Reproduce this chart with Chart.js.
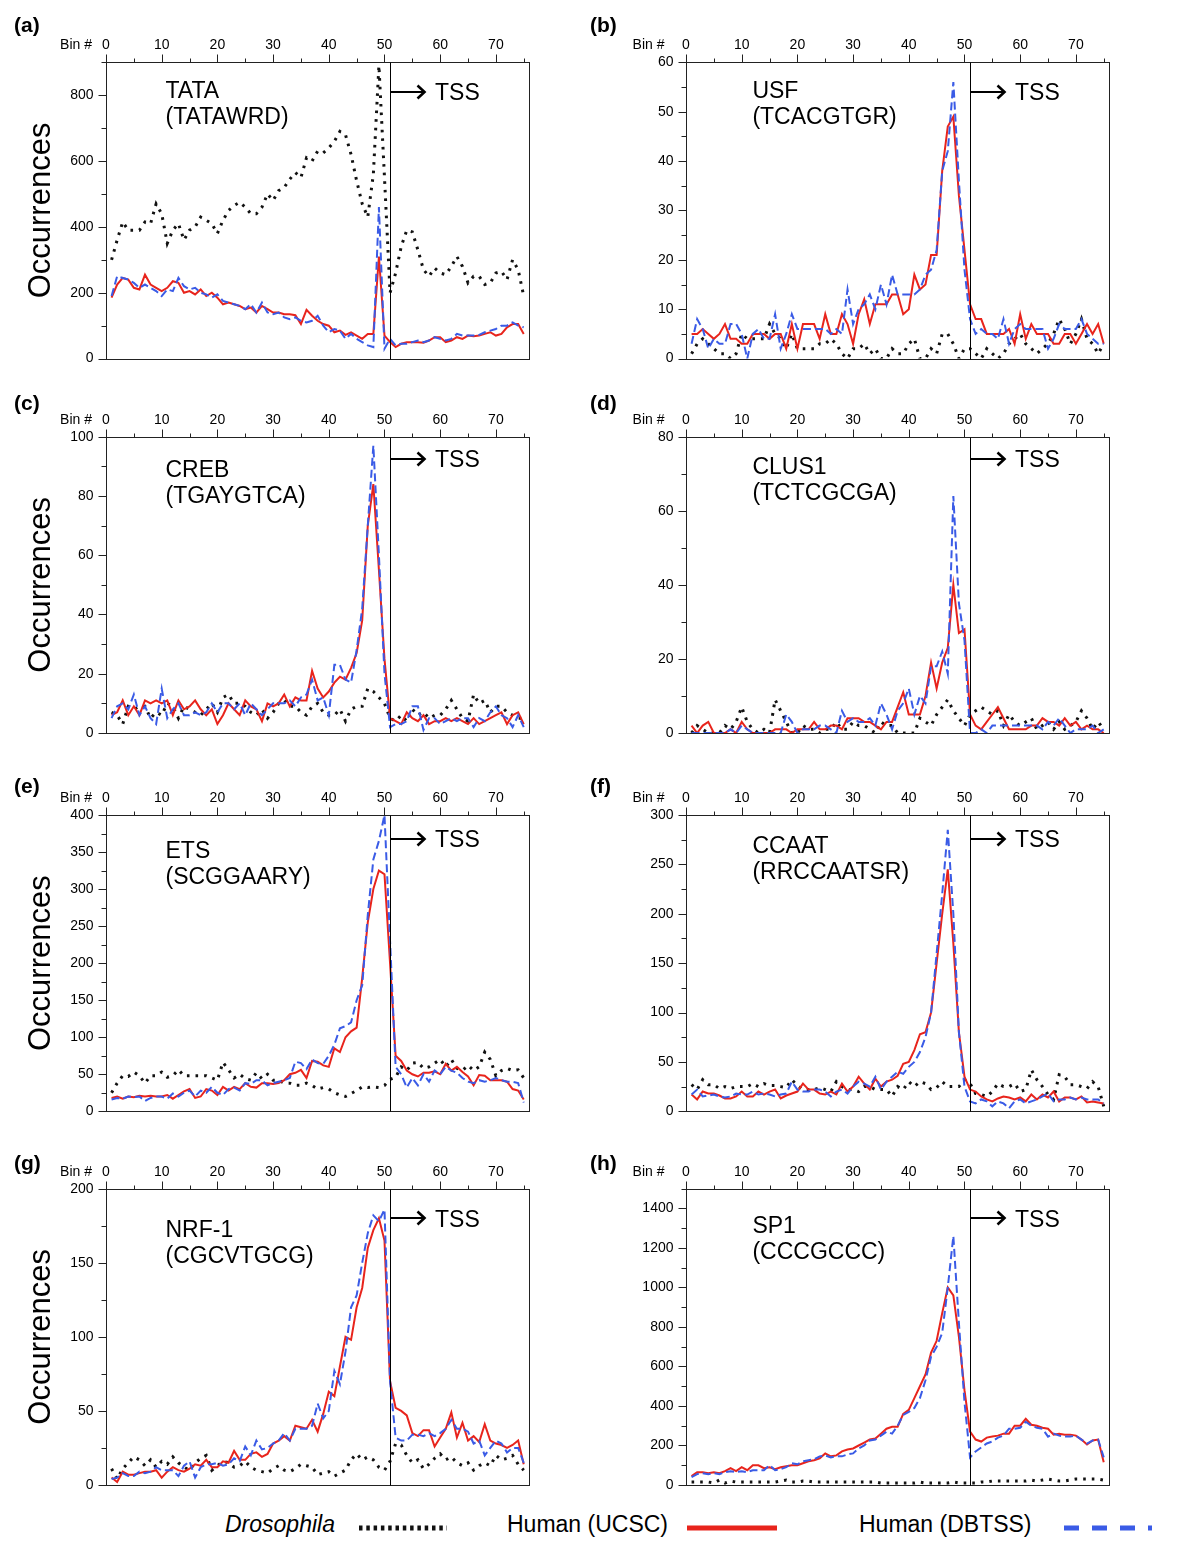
<!DOCTYPE html>
<html>
<head>
<meta charset="utf-8">
<script src="https://cdn.jsdelivr.net/npm/chart.js@4.4.1/dist/chart.umd.min.js"></script>
<style>
  body { margin: 0; background: #fff; }
  #page { position: relative; width: 1200px; height: 1564px; overflow: hidden; }
  canvas { position: absolute; }
  .leg { position: absolute; top: 1511px; height: 30px; line-height: 30px; font: 23px "Liberation Sans", Arial, sans-serif; color: #000; white-space: nowrap; }
</style>
</head>
<body>
<div id="page">
  <div class="leg" style="left:225px;font-style:italic">Drosophila</div>
  <div class="leg" style="left:507px">Human (UCSC)</div>
  <div class="leg" style="left:859px">Human (DBTSS)</div>
  <canvas id="legendLines" width="1200" height="40" style="left:0;top:1508px"></canvas>
</div>
<script>
// Bin numbers along the promoter (x values of every series)
const bins = [1,2,3,4,5,6,7,8,9,10,11,12,13,14,15,16,17,18,19,20,21,22,23,24,25,
  26,27,28,29,30,31,32,33,34,35,36,37,38,39,40,41,42,43,44,45,46,47,48,49,50,
  51,52,53,54,55,56,57,58,59,60,61,62,63,64,65,66,67,68,69,70,71,72,73,74,75];
const binTicks = [0, 10, 20, 30, 40, 50, 60, 70];
const tssBin = 51;

// (a) TATA
const tataDros = [300,360,415,390,390,390,415,410,470,440, 350,390,410,360,390,400,430,420,410,380,
  420,450,465,475,460,440,440,460,500,480, 510,520,545,565,550,610,600,630,625,640,
  660,690,680,620,540,470,430,560,890,550, 200,260,340,390,385,330,270,250,275,260,
  255,280,310,280,230,250,250,225,230,260, 265,240,300,270,190];
const tataUcsc = [185,225,245,240,215,210,255,225,215,205, 215,235,230,200,205,195,210,190,200,185,
  165,170,165,160,150,155,140,160,150,140, 140,135,135,132,105,148,130,115,105,100,
  80,85,72,80,70,60,75,75,310,70, 50,35,45,50,50,50,48,55,65,65,
  50,55,65,60,70,68,70,75,80,70, 75,95,105,105,75];
const tataDbtss = [190,250,245,240,230,215,225,215,205,190, 210,205,245,220,210,215,200,195,185,195,
  175,170,165,160,150,165,140,170,140,135, 140,125,120,125,115,110,115,130,100,80,
  90,85,60,75,60,50,40,35,460,30, 60,40,45,45,50,55,50,55,65,60,
  55,60,75,70,70,70,72,80,85,90, 100,100,110,100,95];
const tataTicks = [0, 200, 400, 600, 800];

// (b) USF
const usfDros = [1,3,4,3,2,1,1,0,1,5, 4,4,4,4,7,5,4,2,5,2, 2,2,2,3,3,4,3,1,0,2,
  2,3,1,2,0,0,2,1,1,3, 4,0,0,2,1,5,5,3,0,2, 2,1,0,2,1,0,1,3,4,5,
  3,2,1,2,3,5,8,6,3,5, 8,4,3,1,3];
const usfUcsc = [5,5,6,5,4,5,7,4,4,3, 3,5,5,5,4,5,5,2,7,2, 7,7,7,4,9,5,5,9,7,3,
  9,12,7,11,11,11,13,13,9,10, 17,14,15,21,21,38,47,49,33,22, 11,8,8,5,5,5,5,6,3,9,
  4,7,5,5,5,3,3,5,5,3, 5,7,5,7,3];
const usfDbtss = [3,8,6,2,4,3,3,7,7,5, 0,5,6,4,4,9,2,5,9,6, 6,6,6,6,6,5,6,5,14,7,
  10,11,13,10,15,11,17,13,13,13, 13,14,17,18,22,38,42,56,36,18, 8,5,6,5,5,4,8,3,6,7,
  6,6,6,6,2,4,7,6,6,6, 8,5,4,3,3];
const usfTicks = [0, 10, 20, 30, 40, 50, 60];

// (c) CREB
const crebDros = [7,6,3,9,8,9,9,5,7,6, 10,9,5,9,8,7,6,8,10,7, 12,13,10,10,9,7,6,8,5,7,
  10,11,9,9,7,6,9,10,7,6, 6,8,4,8,9,9,15,14,12,10, 5,4,6,4,8,6,7,5,6,6,
  8,11,8,5,4,13,10,11,7,9, 9,7,6,5,5];
const crebUcsc = [6,7,11,6,9,6,11,10,11,10, 11,6,11,8,9,11,8,6,8,3, 6,10,8,6,11,9,8,4,10,9,
  10,13,9,12,11,11,21,15,12,14, 17,19,18,22,27,38,70,84,55,25, 5,4,3,7,5,4,6,3,4,4,
  5,4,5,4,3,5,3,4,5,6, 7,3,6,7,3];
const crebDbtss = [5,9,10,8,13,6,9,5,3,15, 5,8,10,6,6,7,6,7,10,7, 10,10,8,10,6,10,8,6,8,10,
  10,10,11,9,12,13,18,11,12,6, 23,23,18,17,28,42,70,97,60,20, 2,3,3,4,9,9,1,5,5,3,
  4,5,4,5,5,2,5,4,7,9, 6,5,2,6,2];
const crebTicks = [0, 20, 40, 60, 80, 100];

// (d) CLUS1
const clusDros = [0,2,1,0,0,0,2,1,3,7, 3,1,0,1,0,9,6,3,0,0, 2,1,1,0,1,1,3,1,1,3,
  2,2,1,0,3,2,2,0,0,0, 0,4,3,2,5,7,9,6,4,2, 5,6,7,6,5,6,2,5,3,2,
  3,4,1,2,3,1,3,1,2,3, 6,4,1,3,1];
const clusUcsc = [2,0,2,3,0,0,0,1,0,3, 1,0,0,0,0,1,1,1,0,1, 1,1,3,1,1,2,2,1,4,4,
  4,3,3,2,1,3,3,7,11,5, 5,5,10,19,12,19,23,40,27,28, 5,2,1,3,5,7,4,1,1,1,
  1,2,2,4,3,3,2,4,2,3, 1,2,1,1,0];
const clusDbtss = [0,0,0,0,0,0,0,1,0,2, 1,0,0,0,0,0,0,5,3,0, 1,1,1,2,2,1,0,6,3,4,
  3,3,4,2,8,5,1,6,8,12, 5,10,8,18,18,22,16,64,35,25, 0,0,1,0,2,2,2,2,2,2,
  2,2,2,1,3,2,4,2,0,1, 1,1,2,0,1];
const clusTicks = [0, 20, 40, 60, 80];

// (e) ETS
const etsDros = [25,38,48,47,53,48,38,48,48,53, 46,48,56,48,48,48,48,48,45,42,
  66,56,45,50,44,42,52,44,50,42, 42,38,38,35,35,38,35,30,32,30,
  25,22,20,24,28,33,32,33,32,35, 43,46,60,55,65,66,58,60,65,70,
  60,70,58,55,62,55,60,80,70,48, 55,58,55,56,45];
const etsUcsc = [18,20,17,20,19,21,20,21,20,20, 22,17,22,27,30,18,20,30,28,22,
  33,28,33,30,38,33,32,38,38,37, 38,42,50,52,56,45,68,67,62,60,
  85,80,100,108,113,180,255,300,325,320, 200,75,68,55,50,47,52,52,54,50,
  64,55,60,53,47,35,49,48,42,42, 42,40,30,28,16];
const etsDbtss = [16,18,17,20,19,20,14,18,20,20, 17,24,20,25,28,20,28,25,33,25,
  22,30,32,28,38,37,42,42,35,38, 40,42,45,67,65,57,70,65,64,75,
  90,112,115,120,150,170,265,340,365,400, 230,60,50,32,45,35,50,40,55,50,
  60,55,52,45,40,38,42,40,42,45, 42,40,40,38,12];
const etsTicks = [0, 50, 100, 150, 200, 250, 300, 350, 400];

// (f) CCAAT
const ccaatDros = [27,22,32,27,27,23,25,23,25,25, 25,28,25,28,26,26,25,24,32,26,
  22,22,22,24,22,20,30,25,22,22, 20,25,25,22,22,22,15,25,22,30,
  25,30,28,22,24,30,25,25,25,32, 28,18,17,15,20,28,25,25,28,20,
  22,42,32,25,17,12,37,35,27,27, 25,23,30,25,5];
const ccaatUcsc = [17,12,20,18,18,16,13,13,15,20, 15,15,20,17,20,22,13,16,18,20,
  28,22,22,18,17,20,17,28,20,25, 35,28,22,33,25,30,32,36,48,50,
  62,78,80,100,150,200,245,170,80,35, 22,20,15,12,10,13,15,14,12,14,
  10,17,12,17,14,20,10,14,14,12, 15,9,10,9,8];
const ccaatDbtss = [17,22,15,16,17,15,14,15,18,17, 17,20,17,18,17,15,17,18,30,22,
  20,20,22,22,20,15,20,22,18,25, 30,28,25,35,22,30,35,40,38,45,
  50,60,75,100,160,220,285,200,80,25, 10,8,12,10,5,10,8,3,10,12,
  8,10,12,15,18,10,12,12,14,12, 14,12,12,12,8];
const ccaatTicks = [0, 50, 100, 150, 200, 250, 300];

// (g) NRF-1
const nrfDros = [11,4,11,15,19,17,13,17,12,16, 14,19,15,12,10,15,18,20,10,13,
  16,15,12,13,16,12,10,9,8,11, 13,10,9,11,14,13,12,7,8,9,
  6,8,10,17,21,17,19,17,12,10, 16,28,27,20,15,17,11,14,18,21,
  17,19,15,13,15,10,13,15,13,20, 17,18,20,14,10];
const nrfUcsc = [5,2,9,7,7,8,9,9,10,5, 9,12,10,9,11,14,13,17,12,12,
  16,15,23,17,17,21,22,19,21,28, 30,33,30,40,39,38,44,36,48,63,
  60,80,100,98,120,133,160,172,180,165, 70,52,50,47,35,33,37,37,26,32,
  38,49,32,42,30,33,29,41,30,28, 27,25,27,30,14];
const nrfDbtss = [4,5,8,6,6,9,8,9,12,10, 10,10,6,13,16,5,12,14,14,15,
  13,14,18,16,26,20,30,24,25,28, 30,35,30,38,38,38,40,55,45,50,
  77,68,90,120,128,150,170,182,178,186, 70,32,30,30,34,34,33,35,33,35,
  38,44,38,38,36,28,30,20,25,30, 28,22,25,25,15];
const nrfTicks = [0, 50, 100, 150, 200];

// (h) SP1
const spDros = [15,15,15,15,10,25,10,20,15,15, 15,15,15,15,15,15,20,25,15,15,
  20,20,15,15,15,15,15,15,15,15, 15,15,15,15,10,10,10,10,10,10,
  10,15,10,10,10,10,10,15,10,10, 10,10,15,15,20,20,20,20,20,20,
  20,25,20,25,30,25,20,20,25,30, 30,30,30,30,25];
const spUcsc = [45,65,65,60,65,60,70,85,70,90, 75,100,100,85,90,80,90,95,100,100,
  110,120,125,135,160,145,150,170,180,185, 200,215,230,235,260,285,295,295,360,380,
  440,500,560,670,730,870,1000,960,750,480, 270,230,220,240,245,250,260,260,300,300,
  335,305,300,290,285,255,260,255,255,250, 230,205,225,230,115];
const spDbtss = [40,55,60,55,60,55,65,70,65,70, 65,75,75,75,100,75,80,90,110,105,
  120,125,130,145,150,140,145,145,155,160, 185,200,225,230,250,270,260,300,355,370,
  390,440,530,650,700,770,1000,1260,820,420, 140,170,190,210,220,240,250,285,285,290,
  320,300,290,285,245,260,250,245,245,250, 230,210,225,230,140];
const spTicks = [0, 200, 400, 600, 800, 1000, 1200, 1400];

const panels = [
  { letter: '(a)', name: 'TATA',  motif: '(TATAWRD)',  dros: tataDros,  ucsc: tataUcsc,  dbtss: tataDbtss,  yMax: 900,  yStep: 200, yTicks: tataTicks },
  { letter: '(b)', name: 'USF',   motif: '(TCACGTGR)', dros: usfDros,   ucsc: usfUcsc,   dbtss: usfDbtss,   yMax: 60,   yStep: 10,  yTicks: usfTicks },
  { letter: '(c)', name: 'CREB',  motif: '(TGAYGTCA)', dros: crebDros,  ucsc: crebUcsc,  dbtss: crebDbtss,  yMax: 100,  yStep: 20,  yTicks: crebTicks },
  { letter: '(d)', name: 'CLUS1', motif: '(TCTCGCGA)', dros: clusDros,  ucsc: clusUcsc,  dbtss: clusDbtss,  yMax: 80,   yStep: 20,  yTicks: clusTicks },
  { letter: '(e)', name: 'ETS',   motif: '(SCGGAARY)', dros: etsDros,   ucsc: etsUcsc,   dbtss: etsDbtss,   yMax: 400,  yStep: 50,  yTicks: etsTicks },
  { letter: '(f)', name: 'CCAAT', motif: '(RRCCAATSR)', dros: ccaatDros, ucsc: ccaatUcsc, dbtss: ccaatDbtss, yMax: 300,  yStep: 50,  yTicks: ccaatTicks },
  { letter: '(g)', name: 'NRF-1', motif: '(CGCVTGCG)', dros: nrfDros,   ucsc: nrfUcsc,   dbtss: nrfDbtss,   yMax: 200,  yStep: 50,  yTicks: nrfTicks },
  { letter: '(h)', name: 'SP1',   motif: '(CCCGCCC)',  dros: spDros,    ucsc: spUcsc,    dbtss: spDbtss,    yMax: 1500, yStep: 200, yTicks: spTicks }
];

// Page layout (pixels)
const canvasLeft = [0, 580];
const plotTops = [62.3, 436.7, 815, 1188.7];
const plotW = 423.3, plotH = 296.3, padLeft = 106, canvasW = 575, canvasH = 375;
const letterDy = [-30.3, -26.5, -22, -18.7];   // panel letter baseline from plot top
const tssDy = [37.7, 30.6, 32, 38];            // "TSS" baseline from plot top
const nameDy = [36, 36, 40.6, 37.3, 43, 38, 48.6, 44.6]; // motif name baseline
const FONT = '"Liberation Sans", Arial, Helvetica, sans-serif';

const RED = '#e8241c';
const BLUE = '#3a5be6';
const BLACK = '#111';

// Draws the frame, top bin axis, left count axis and all panel annotations
const panelDecor = {
  id: 'panelDecor',
  afterDatasetsDraw(chart, args, opts) {
    const { ctx, chartArea: ca, scales: { x, y } } = chart;
    const p = opts.panel, col = opts.col, row = opts.row;
    const L = Math.round(ca.left) + 0.5, R = Math.round(ca.right) + 0.5;
    const T = Math.round(ca.top) + 0.5, B = Math.round(ca.bottom) + 0.5;
    ctx.save();
    ctx.strokeStyle = '#222';
    ctx.lineWidth = 1;
    ctx.setLineDash([]);
    ctx.strokeRect(L, T, R - L, B - T);

    // top axis: bin ticks
    ctx.beginPath();
    for (let v = 0; v <= 75; v += 5) {
      const px = Math.round(x.getPixelForValue(v)) + 0.5;
      ctx.moveTo(px, T);
      ctx.lineTo(px, T - (v % 10 === 0 ? 8 : 4));
    }
    // left axis: count ticks
    for (let v = 0; v <= p.yMax + 1e-9; v += p.yStep / 2) {
      const py = Math.round(y.getPixelForValue(v)) + 0.5;
      const major = Math.abs(v / p.yStep - Math.round(v / p.yStep)) < 1e-6;
      ctx.moveTo(L, py);
      ctx.lineTo(L - (major ? 8 : 5), py);
    }
    ctx.stroke();

    ctx.fillStyle = '#000';
    ctx.font = '14px ' + FONT;
    ctx.textAlign = 'center';
    ctx.textBaseline = 'alphabetic';
    binTicks.forEach(v => ctx.fillText(String(v), x.getPixelForValue(v), ca.top - 13));
    ctx.textAlign = 'right';
    ctx.fillText('Bin #', ca.left - (col === 0 ? 14 : 21.5), ca.top - 13);
    ctx.textBaseline = 'middle';
    p.yTicks.forEach(v => ctx.fillText(String(v), ca.left - 12.5, y.getPixelForValue(v)));

    // TSS marker
    const tx = Math.round(x.getPixelForValue(tssBin)) + 0.5;
    ctx.beginPath();
    ctx.moveTo(tx, T);
    ctx.lineTo(tx, B);
    ctx.strokeStyle = '#000';
    ctx.stroke();
    const ay = Math.round(ca.top + tssDy[row] - 8.5);
    ctx.lineWidth = 2.2;
    ctx.beginPath();
    ctx.moveTo(tx, ay);
    ctx.lineTo(tx + 34, ay);
    ctx.stroke();
    ctx.lineWidth = 2.6;
    ctx.lineJoin = 'miter';
    ctx.beginPath();
    ctx.moveTo(tx + 27, ay - 6.5);
    ctx.lineTo(tx + 34, ay);
    ctx.lineTo(tx + 27, ay + 6.5);
    ctx.stroke();
    ctx.textAlign = 'left';
    ctx.textBaseline = 'alphabetic';
    ctx.font = '23px ' + FONT;
    ctx.fillText('TSS', tx + 44.5, ca.top + tssDy[row]);

    // motif name
    const nx = ca.left + (col === 0 ? 59.5 : 66.4);
    const nd = nameDy[row * 2 + col];
    ctx.fillText(p.name, nx, ca.top + nd);
    ctx.fillText(p.motif, nx, ca.top + nd + 25.5);

    // panel letter
    ctx.font = 'bold 21px ' + FONT;
    ctx.fillText(p.letter, ca.left - (col === 0 ? 92 : 96), ca.top + letterDy[row]);

    // y title on the left column only
    if (col === 0) {
      ctx.font = '31px ' + FONT;
      ctx.translate(ca.left - 56, (ca.top + ca.bottom) / 2);
      ctx.rotate(-Math.PI / 2);
      ctx.textAlign = 'center';
      ctx.fillText('Occurrences', 0, 0);
    }
    ctx.restore();
  }
};

function toPoints(values) {
  return values.map((v, i) => ({ x: bins[i], y: v }));
}

const page = document.getElementById('page');
panels.forEach((p, i) => {
  const col = i % 2, row = Math.floor(i / 2);
  const canvas = document.createElement('canvas');
  const top = Math.floor(plotTops[row]) - 62;
  canvas.width = canvasW;
  canvas.height = canvasH;
  canvas.style.left = canvasLeft[col] + 'px';
  canvas.style.top = top + 'px';
  page.appendChild(canvas);
  const padTop = plotTops[row] - top;

  new Chart(canvas, {
    type: 'line',
    data: {
      datasets: [
        { label: 'Drosophila', data: toPoints(p.dros), borderColor: BLACK, borderWidth: 3,
          borderDash: [2.6, 6], borderCapStyle: 'butt', order: 2 },
        { label: 'Human (UCSC)', data: toPoints(p.ucsc), borderColor: RED, borderWidth: 2, order: 1 },
        { label: 'Human (DBTSS)', data: toPoints(p.dbtss), borderColor: BLUE, borderWidth: 2,
          borderDash: [8, 4], order: 0 }
      ]
    },
    options: {
      responsive: false,
      animation: false,
      events: [],
      layout: { padding: { left: padLeft, top: padTop, right: canvasW - padLeft - plotW,
        bottom: canvasH - padTop - plotH } },
      elements: { point: { radius: 0 }, line: { tension: 0, fill: false } },
      scales: {
        x: { type: 'linear', min: 0, max: 76, display: false },
        y: { type: 'linear', min: 0, max: p.yMax, display: false }
      },
      plugins: {
        legend: { display: false },
        tooltip: { enabled: false },
        panelDecor: { panel: p, col: col, row: row }
      }
    },
    plugins: [panelDecor]
  });
});

// Legend line samples
const lg = document.getElementById('legendLines').getContext('2d');
lg.lineCap = 'butt';
lg.lineWidth = 5;
lg.strokeStyle = BLACK;
lg.setLineDash([3.5, 3.8]);
lg.beginPath(); lg.moveTo(359, 20); lg.lineTo(447, 20); lg.stroke();
lg.strokeStyle = RED;
lg.setLineDash([]);
lg.beginPath(); lg.moveTo(687, 20); lg.lineTo(777, 20); lg.stroke();
lg.strokeStyle = BLUE;
lg.setLineDash([15, 13]);
lg.beginPath(); lg.moveTo(1064, 20); lg.lineTo(1152, 20); lg.stroke();
</script>
</body>
</html>
